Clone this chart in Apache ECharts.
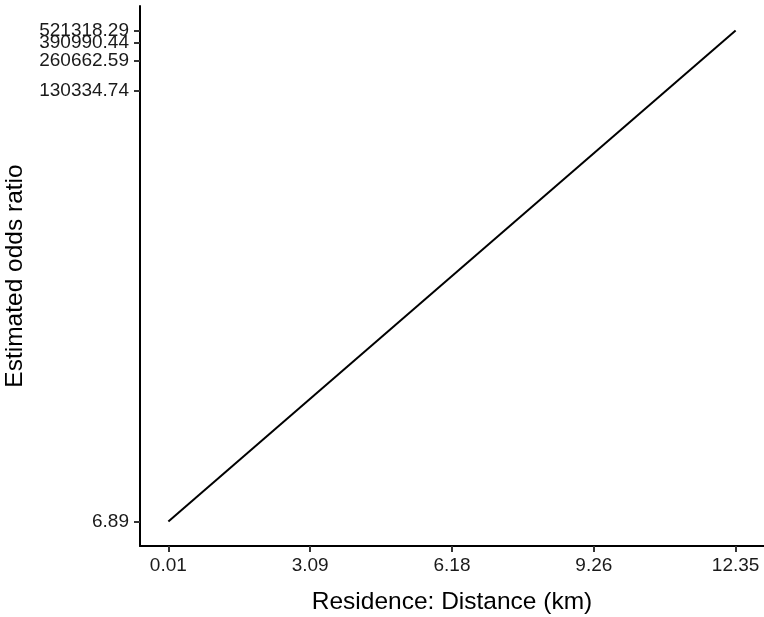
<!DOCTYPE html>
<html>
<head>
<meta charset="utf-8">
<script src="https://cdn.jsdelivr.net/npm/echarts@6/dist/echarts.min.js"></script>
<style>
  html, body { margin: 0; padding: 0; background: #fff; }
  #chart { width: 764px; height: 617px; }
</style>
</head>
<body>
<div id="chart"></div>
<script>
// Residence distance (km) against the estimated odds ratio
var distanceKm = [0.01, 12.35];
var oddsRatio = [6.89, 521318.29];

// Axis ticks and their printed labels
var xTickValues = [0.01, 3.095, 6.18, 9.265, 12.35];
var xTickLabels = ['0.01', '3.09', '6.18', '9.26', '12.35'];
var yTickValues = [6.89, 130334.74, 260662.59, 390990.44, 521318.29];
var yTickLabels = ['6.89', '130334.74', '260662.59', '390990.44', '521318.29'];

// Pad both ranges by 5% (the y range in log space)
var xSpan = distanceKm[1] - distanceKm[0];
var xMin = distanceKm[0] - 0.05 * xSpan;
var xMax = distanceKm[1] + 0.05 * xSpan;
var lyMin = Math.log10(oddsRatio[0]);
var lyMax = Math.log10(oddsRatio[1]);
var lySpan = lyMax - lyMin;
var yMin = Math.pow(10, lyMin - 0.05 * lySpan);
var yMax = Math.pow(10, lyMax + 0.05 * lySpan);

function nearestLabel(v, vals, labels, tol) {
  for (var i = 0; i < vals.length; i++) {
    if (Math.abs(vals[i] - v) <= tol * Math.max(1, Math.abs(vals[i]))) return labels[i];
  }
  return '';
}

var font = '"Liberation Sans", Arial, sans-serif';

// The y ticks sit very close together near the top; ECharts drops a label
// that collides with the end label, so alternate ticks go on a twin axis.
var yTicksMain = yTickValues.filter(function (v, i) { return i % 2 === 0; });
var yTicksTwin = yTickValues.filter(function (v, i) { return i % 2 === 1; });

function yAxisDef(ticks, withLine, withName) {
  return {
    type: 'log',
    logBase: 10,
    min: yMin,
    max: yMax,
    position: 'left',
    name: withName ? 'Estimated odds ratio' : '',
    nameLocation: 'middle',
    nameGap: 112,
    nameMoveOverlap: false,
    nameTextStyle: { fontFamily: font, fontSize: 24.5, color: '#000' },
    axisLine: { show: withLine, onZero: false, lineStyle: { color: '#000', width: 2 } },
    axisTick: { show: true, customValues: ticks, length: 6, lineStyle: { color: '#333', width: 2 } },
    axisLabel: {
      customValues: ticks,
      showMinLabel: true,
      showMaxLabel: true,
      hideOverlap: false,
      margin: 11,
      fontFamily: font,
      fontSize: 19,
      color: '#1a1a1a',
      formatter: function (v) { return nearestLabel(v, yTickValues, yTickLabels, 1e-3); }
    },
    splitLine: { show: false }
  };
}

var chart = echarts.init(document.getElementById('chart'), null, { renderer: 'canvas' });
chart.setOption({
  animation: false,
  backgroundColor: '#ffffff',
  grid: { left: 140, right: 0, top: 6, bottom: 71, outerBoundsMode: 'none' },
  xAxis: {
    type: 'value',
    min: xMin,
    max: xMax,
    name: 'Residence: Distance (km)',
    nameLocation: 'middle',
    nameGap: 44,
    nameMoveOverlap: false,
    nameTextStyle: { fontFamily: font, fontSize: 24.5, color: '#000' },
    axisLine: { show: true, onZero: false, lineStyle: { color: '#000', width: 2 } },
    axisTick: { show: true, customValues: xTickValues, length: 6, lineStyle: { color: '#333', width: 2 } },
    axisLabel: {
      customValues: xTickValues,
      showMinLabel: true,
      showMaxLabel: true,
      margin: 10,
      fontFamily: font,
      fontSize: 19,
      color: '#1a1a1a',
      formatter: function (v) { return nearestLabel(v, xTickValues, xTickLabels, 1e-3); }
    },
    splitLine: { show: false }
  },
  yAxis: [
    yAxisDef(yTicksMain, true, true),
    yAxisDef(yTicksTwin, false, false)
  ],
  series: [{
    type: 'line',
    yAxisIndex: 0,
    data: distanceKm.map(function (x, i) { return [x, oddsRatio[i]]; }),
    showSymbol: false,
    lineStyle: { color: '#000', width: 2 },
    clip: true
  }]
});
</script>
</body>
</html>
